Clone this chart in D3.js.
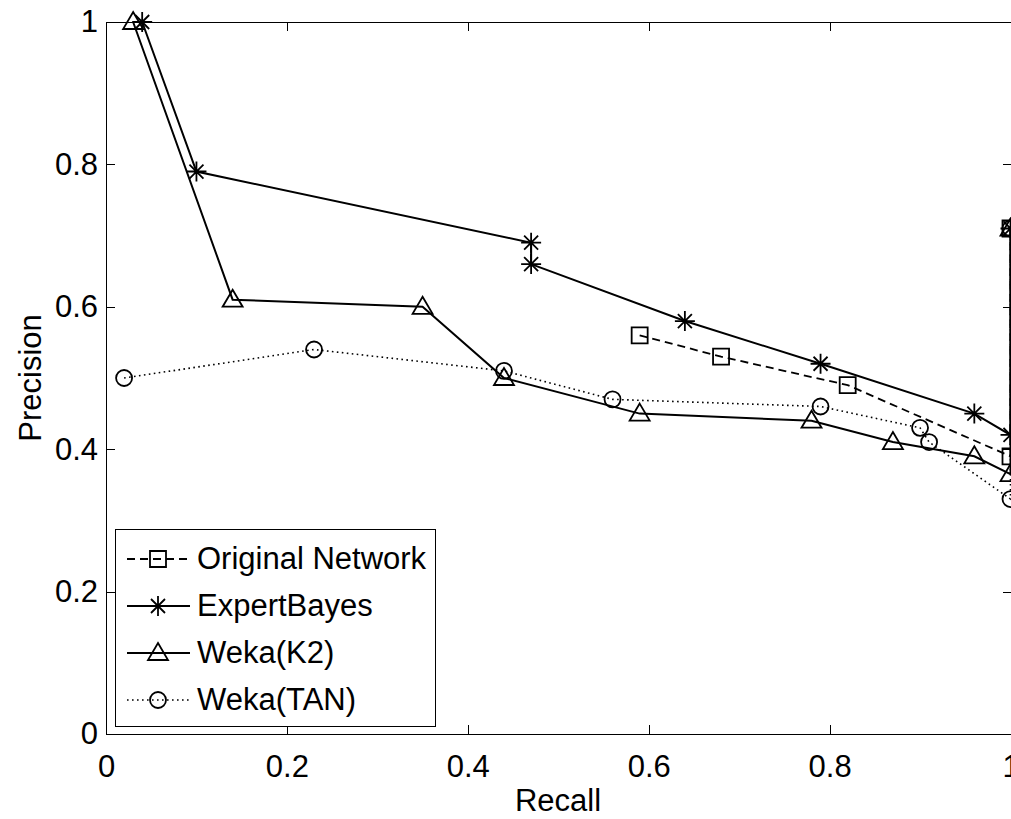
<!DOCTYPE html>
<html>
<head>
<meta charset="utf-8">
<title>Precision / Recall</title>
<script src="https://d3js.org/d3.v7.min.js" charset="utf-8"></script>
<style>
*{
	margin: 0;
	padding: 0;
}
body{
	background: #fff;
}
text{
	font-family: "Liberation Sans", Arial, Helvetica, sans-serif;
	fill: #000;
}
</style>
</head>
<body>
<script>

	// data (recall, precision)
	var seriesNames = ['Original Network', 'ExpertBayes', 'Weka(K2)', 'Weka(TAN)'];

	var origRecall = [0.59, 0.68, 0.82, 1.00, 1.00];
	var origPrec   = [0.56, 0.53, 0.49, 0.39, 0.71];

	var ebRecall = [0.04, 0.10, 0.47, 0.47, 0.64, 0.79, 0.96, 1.00, 1.00];
	var ebPrec   = [1.00, 0.79, 0.69, 0.66, 0.58, 0.52, 0.45, 0.42, 0.71];

	var k2Recall = [0.03, 0.14, 0.35, 0.44, 0.59, 0.78, 0.87, 0.96, 1.00, 1.00];
	var k2Prec   = [1.00, 0.61, 0.60, 0.50, 0.45, 0.44, 0.41, 0.39, 0.365, 0.71];

	var tanRecall = [0.02, 0.23, 0.44, 0.56, 0.79, 0.90, 0.91, 1.00, 1.00];
	var tanPrec   = [0.50, 0.54, 0.51, 0.47, 0.46, 0.43, 0.41, 0.33, 0.71];

	var xTicks = [0, 0.2, 0.4, 0.6, 0.8, 1];
	var yTicks = [0, 0.2, 0.4, 0.6, 0.8, 1];

	var width = 1011;
	var height = 819;
	// plot box (window.top is read-only, so own names)
	var boxL = 106, boxR = 1010.5, boxT = 22, boxB = 734;
	var fontSize = 31;

	var svg = d3.select("body")
				.append("svg")
				.attr("width", width)
				.attr("height", height);

	svg.append('rect')
		.attr('width', width)
		.attr('height', height)
		.attr('fill', 'white');

	var x = d3.scaleLinear().domain([0, 1]).range([boxL, boxR]);
	var y = d3.scaleLinear().domain([0, 1]).range([boxB, boxT]);
	var fmt = d3.format('~g');

	//座標軸 (ticks point inward like matlab)
	var gx = svg.append('g')
		.attr('transform', 'translate(0,' + boxB + ')')
		.call(d3.axisBottom(x).tickValues(xTicks).tickFormat(fmt).tickSize(-9).tickSizeOuter(0).tickPadding(21));
	var gy = svg.append('g')
		.attr('transform', 'translate(' + boxL + ',0)')
		.call(d3.axisLeft(y).tickValues(yTicks).tickFormat(fmt).tickSize(-9).tickSizeOuter(0).tickPadding(8));
	var gt = svg.append('g')
		.attr('transform', 'translate(0,' + boxT + ')')
		.call(d3.axisTop(x).tickValues(xTicks).tickFormat('').tickSize(-9).tickSizeOuter(0));
	var gr = svg.append('g')
		.attr('transform', 'translate(' + (boxR + 1) + ',0)')
		.call(d3.axisRight(y).tickValues(yTicks).tickFormat('').tickSize(-9).tickSizeOuter(0));

	[gx, gy, gt, gr].forEach(function(g){
		g.selectAll('.domain').remove();
		g.selectAll('line').attr('stroke', '#000').attr('stroke-width', 1).attr('shape-rendering', 'crispEdges');
		g.selectAll('text').attr('font-size', fontSize).attr('font-family', '"Liberation Sans", Arial, sans-serif').attr('fill', '#000');
	});
	// top and right ticks at 0/1 sit on the border, drop them
	gt.selectAll('.tick').filter(function(d){ return d === 0 || d === 1; }).remove();
	gr.selectAll('.tick').filter(function(d){ return d === 0 || d === 1; }).remove();

	svg.append('rect')
		.attr('x', boxL)
		.attr('y', boxT)
		.attr('width', boxR + 1 - boxL)
		.attr('height', boxB - boxT)
		.attr('fill', 'none')
		.attr('stroke', '#000')
		.attr('stroke-width', 1)
		.attr('shape-rendering', 'crispEdges');

	svg.append('text')
		.attr('x', 558)
		.attr('y', 811)
		.attr('text-anchor', 'middle')
		.attr('font-size', fontSize)
		.text('Recall');

	svg.append('text')
		.attr('transform', 'translate(41,378) rotate(-90)')
		.attr('text-anchor', 'middle')
		.attr('font-size', fontSize)
		.text('Precision');

	//markers
	function markerPath(type){
		if (type === 'square') return 'M-8,-8H8V8H-8Z';
		if (type === 'circle') return 'M8,0A8,8 0 1,1 -8,0A8,8 0 1,1 8,0Z';
		if (type === 'triangle') return 'M0,-10L10,7H-10Z';
		// asterisk = plus + cross
		return 'M0,-10V10M-10,0H10M-7,-7L7,7M-7,7L7,-7';
	}

	var series = [
		{name: seriesNames[0], rx: origRecall, py: origPrec, marker: 'square', dash: '8,5', lw: 1.8},
		{name: seriesNames[1], rx: ebRecall, py: ebPrec, marker: 'star', dash: null, lw: 2},
		{name: seriesNames[2], rx: k2Recall, py: k2Prec, marker: 'triangle', dash: null, lw: 2},
		{name: seriesNames[3], rx: tanRecall, py: tanPrec, marker: 'circle', dash: '1.6,3.4', lw: 1.6}
	];

	var line = d3.line().x(function(d){ return x(d[0]); }).y(function(d){ return y(d[1]); });

	var plot = svg.append('g');

	series.forEach(function(s){
		var pts = s.rx.map(function(r, i){ return [r, s.py[i]]; });
		plot.append('path')
			.attr('d', line(pts))
			.attr('fill', 'none')
			.attr('stroke', '#000')
			.attr('stroke-width', s.lw)
			.attr('stroke-dasharray', s.dash);
		plot.selectAll(null).data(pts).enter().append('path')
			.attr('transform', function(d){ return 'translate(' + x(d[0]) + ',' + y(d[1]) + ')'; })
			.attr('d', markerPath(s.marker))
			.attr('fill', 'none')
			.attr('stroke', '#000')
			.attr('stroke-width', 1.8);
	});

	//legend
	var legend = svg.append('g');
	legend.append('rect')
		.attr('x', 115.5)
		.attr('y', 529.5)
		.attr('width', 320)
		.attr('height', 197)
		.attr('fill', 'white')
		.attr('stroke', '#000')
		.attr('stroke-width', 1);

	var rowY = d3.scalePoint().domain(seriesNames).range([559, 700]);

	series.forEach(function(s){
		var ly = rowY(s.name);
		legend.append('line')
			.attr('x1', 127).attr('x2', 190)
			.attr('y1', ly).attr('y2', ly)
			.attr('stroke', '#000')
			.attr('stroke-width', s.lw)
			.attr('stroke-dasharray', s.dash);
		legend.append('path')
			.attr('transform', 'translate(158,' + ly + ')')
			.attr('d', markerPath(s.marker))
			.attr('fill', 'none')
			.attr('stroke', '#000')
			.attr('stroke-width', 1.8);
		legend.append('text')
			.attr('x', 197)
			.attr('y', ly + 10)
			.attr('font-size', fontSize)
			.text(s.name);
	});

</script>
</body>
</html>
